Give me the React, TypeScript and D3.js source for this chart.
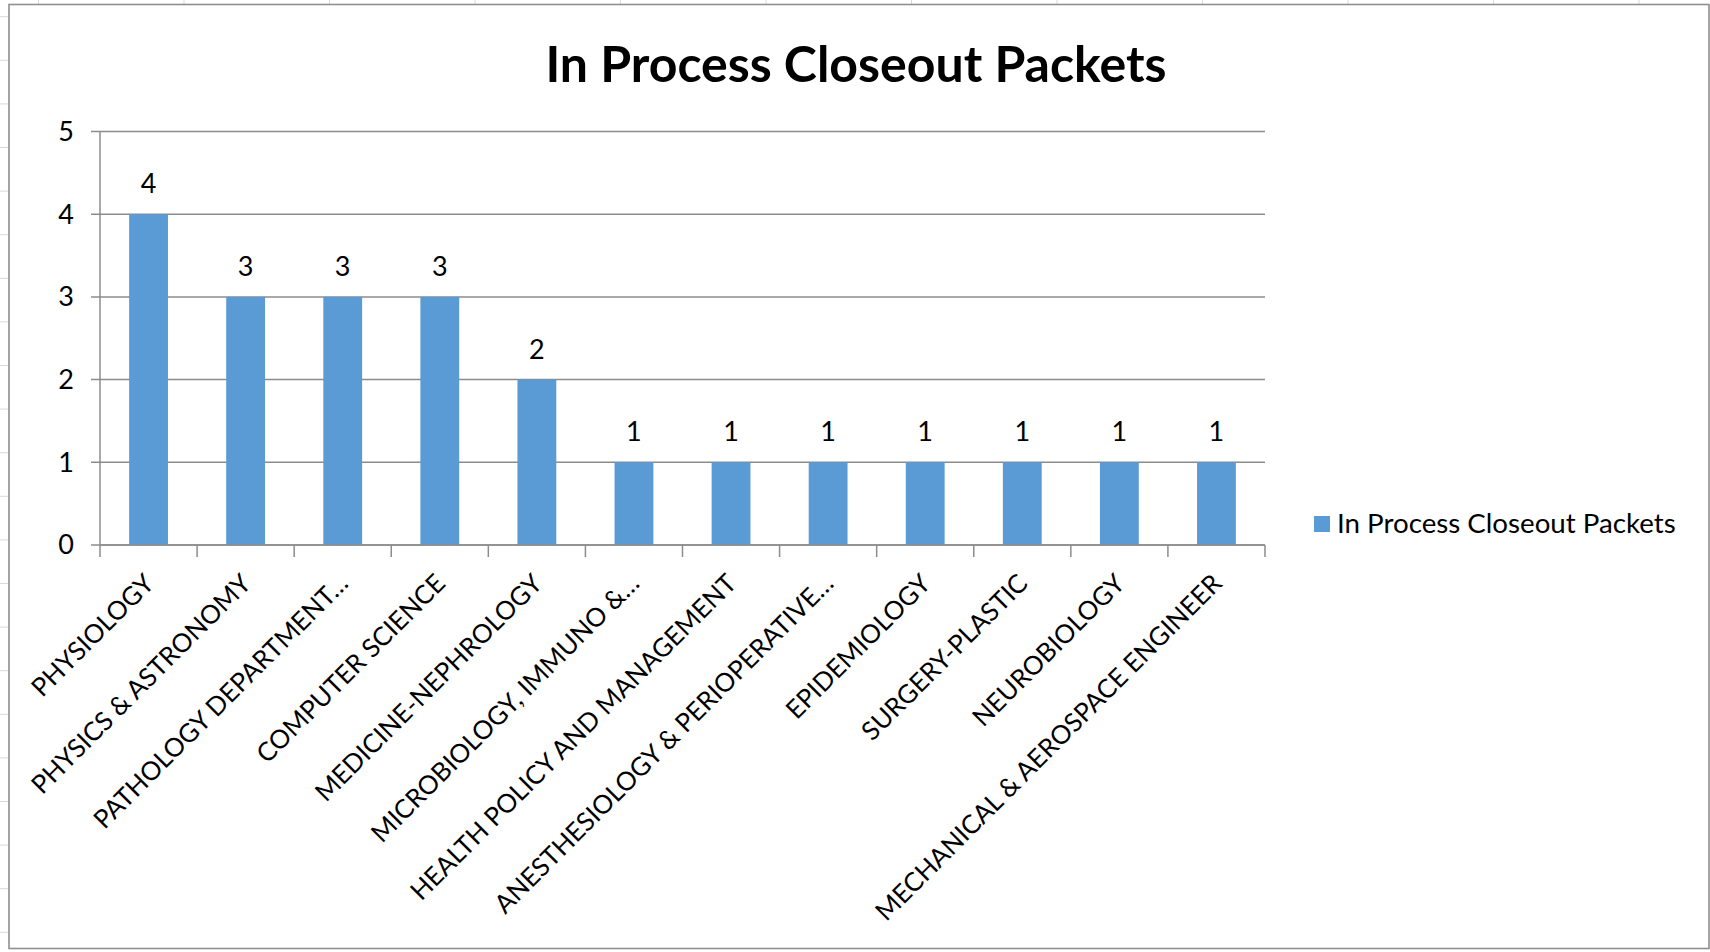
import React from "react";
import * as d3 from "d3";

const categories = [
  "PHYSIOLOGY",
  "PHYSICS & ASTRONOMY",
  "PATHOLOGY DEPARTMENT…",
  "COMPUTER SCIENCE",
  "MEDICINE-NEPHROLOGY",
  "MICROBIOLOGY, IMMUNO &…",
  "HEALTH POLICY AND MANAGEMENT",
  "ANESTHESIOLOGY & PERIOPERATIVE…",
  "EPIDEMIOLOGY",
  "SURGERY-PLASTIC",
  "NEUROBIOLOGY",
  "MECHANICAL & AEROSPACE ENGINEER",
];
const values = [4, 3, 3, 3, 2, 1, 1, 1, 1, 1, 1, 1];
const yTicks = [0, 1, 2, 3, 4, 5];
const seriesName = "In Process Closeout Packets";
const title = "In Process Closeout Packets";

const W = 1710;
const H = 952;
const FONT = "Lato, 'Open Sans', sans-serif";
const BAR = "#5B9BD5";
const GRID = "#8c8c8c";
const SHEET = "#d9d9d9";

export default function App() {
  const x = d3
    .scaleBand<string>()
    .domain(categories)
    .range([100, 1265])
    .paddingInner(0.6)
    .paddingOuter(0.3);
  const y = d3.scaleLinear().domain([0, 5]).range([545, 131.5]);
  const step = x.step();
  const boundaries = d3.range(categories.length + 1).map((k) => 100 + k * step);
  const colLines = d3.range(12).map((k) => 38.5 + k * 145.5);
  const rowLines = d3.range(23).map((k) => 16.7 + k * 43.6);

  return (
    <svg
      width={W}
      height={H}
      style={{ position: "fixed", left: 0, top: 0, background: "#fff" }}
      fontFamily={FONT}
    >
      {/* spreadsheet cell lines behind the chart */}
      {colLines.map((cx, i) => (
        <line key={"c" + i} x1={cx} x2={cx} y1={0} y2={5} stroke={SHEET} strokeWidth={1} />
      ))}
      {rowLines.map((ry, i) => (
        <line key={"r" + i} x1={0} x2={9} y1={ry} y2={ry} stroke={SHEET} strokeWidth={1} />
      ))}
      {/* chart area */}
      <rect x={9} y={4.5} width={1700} height={944} fill="#fff" stroke="#8f8f8f" strokeWidth={1.6} />

      {/* title */}
      <text x={856} y={82} textAnchor="middle" fontSize={50} fontWeight={700} fill="#000">
        {title}
      </text>

      {/* gridlines */}
      {yTicks.map((t) => (
        <line key={"g" + t} x1={91} x2={1265} y1={y(t)} y2={y(t)} stroke={GRID} strokeWidth={1.5} />
      ))}
      {/* y axis */}
      <line x1={100} x2={100} y1={y(5)} y2={y(0)} stroke={GRID} strokeWidth={1.5} />
      {yTicks.map((t) => (
        <text
          key={"yt" + t}
          x={74}
          y={y(t)}
          dy="0.35em"
          textAnchor="end"
          fontSize={27}
          fill="#000"
        >
          {t}
        </text>
      ))}

      {/* bars */}
      {categories.map((c, i) => (
        <rect
          key={"b" + i}
          x={x(c)}
          y={y(values[i])}
          width={x.bandwidth()}
          height={y(0) - y(values[i])}
          fill={BAR}
        />
      ))}
      {/* x axis line redraw over bars */}
      <line x1={100} x2={1265} y1={y(0)} y2={y(0)} stroke={GRID} strokeWidth={1.5} />
      {boundaries.map((bx, i) => (
        <line key={"xt" + i} x1={bx} x2={bx} y1={y(0)} y2={y(0) + 12} stroke={GRID} strokeWidth={1.5} />
      ))}

      {/* data labels */}
      {categories.map((c, i) => (
        <text
          key={"dl" + i}
          x={(x(c) as number) + x.bandwidth() / 2}
          y={y(values[i]) - 21}
          textAnchor="middle"
          fontSize={27}
          fill="#000"
        >
          {values[i]}
        </text>
      ))}

      {/* category labels */}
      {categories.map((c, i) => {
        const cx = (x(c) as number) + x.bandwidth() / 2;
        return (
          <text
            key={"cl" + i}
            transform={`translate(${cx + 7},${y(0) + 40}) rotate(-45)`}
            textAnchor="end"
            fontSize={25.8}
            fill="#000"
          >
            {c}
          </text>
        );
      })}

      {/* legend */}
      <rect x={1314} y={516} width={16} height={16} fill={BAR} />
      <text x={1337} y={533} fontSize={27.7} fill="#000">
        {seriesName}
      </text>
    </svg>
  );
}
